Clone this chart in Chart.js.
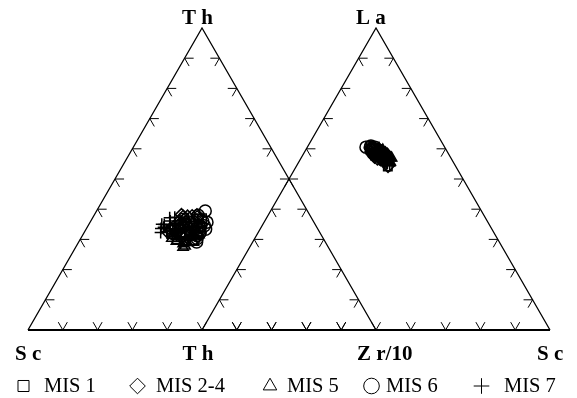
<!DOCTYPE html>
<html>
<head>
<meta charset="utf-8">
<script src="https://cdn.jsdelivr.net/npm/chart.js@4/dist/chart.umd.min.js"></script>
<style>
  html, body { margin: 0; padding: 0; background: #fff; }
  canvas { display: block; }
</style>
</head>
<body>
<canvas id="chart" width="577" height="398"></canvas>
<script>
  // samples as [La, Th, Sc, Zr] (ppm), read back from both diagrams
  const seriesNames = ['MIS 1', 'MIS 2-4', 'MIS 5', 'MIS 6', 'MIS 7'];
  const seriesStyles = ['rect', 'rectRot', 'triangle', 'circle', 'cross'];

  const mis1 = [
    [27.4, 9.2, 10.8, 74], [27.9, 9.6, 10.4, 80], [28.2, 9.8, 10.1, 85],
    [27.1, 9.0, 11.2, 78], [27.6, 9.4, 10.6, 88], [28.0, 9.7, 10.9, 72],
    [26.8, 8.9, 11.0, 83], [27.5, 9.3, 10.2, 90], [28.4, 10.0, 10.5, 77],
    [27.2, 9.1, 11.4, 70], [27.8, 9.5, 9.9, 86], [27.0, 8.8, 10.7, 81],
    [29.2, 10.3, 9.1, 86], [26.1, 8.5, 12.0, 79], [28.6, 10.6, 10.4, 75],
    [26.5, 8.6, 11.9, 88], [29.0, 10.0, 8.5, 85], [25.5, 9.2, 12.4, 74],
    [27.3, 9.0, 10.0, 83], [28.1, 9.9, 11.0, 76], [26.9, 9.1, 11.8, 82]
  ];
  const mis24 = [
    [28.1, 10.2, 10.3, 74], [27.7, 10.4, 10.8, 79], [28.5, 10.1, 10.0, 82],
    [27.9, 9.9, 10.6, 70], [28.3, 10.3, 9.8, 87], [27.4, 9.7, 11.1, 76],
    [28.0, 10.0, 10.4, 92], [27.6, 9.6, 10.9, 84], [28.6, 10.5, 10.2, 72],
    [27.3, 9.4, 11.3, 68], [28.8, 10.9, 10.2, 78], [29.4, 10.5, 8.9, 81],
    [28.9, 11.0, 10.6, 72], [26.9, 9.2, 11.7, 66], [28.4, 10.7, 9.6, 80],
    [25.9, 9.3, 12.6, 70], [27.8, 10.1, 11.4, 75], [29.1, 10.8, 9.4, 86],
    [27.2, 9.8, 11.0, 80]
  ];
  const mis5 = [
    [27.0, 8.4, 10.9, 80], [26.6, 8.1, 11.2, 84], [27.3, 8.6, 10.5, 88],
    [26.9, 8.3, 11.5, 76], [27.5, 8.8, 10.3, 91], [26.4, 8.0, 11.0, 86],
    [27.2, 8.7, 11.3, 73], [26.8, 8.2, 10.7, 93], [27.6, 8.9, 10.8, 82],
    [26.7, 8.5, 11.6, 70], [26.2, 8.0, 11.8, 90], [25.8, 8.4, 12.2, 80],
    [26.0, 7.9, 11.4, 84], [27.9, 9.0, 10.0, 95], [26.2, 8.9, 12.0, 78],
    [27.4, 8.4, 10.2, 86], [26.1, 7.8, 11.9, 88], [27.8, 8.8, 9.6, 90],
    [26.0, 8.6, 12.3, 74]
  ];
  const mis6 = [
    [28.4, 10.6, 7.9, 84], [27.8, 9.3, 9.6, 92], [27.5, 9.1, 9.9, 95],
    [28.0, 9.6, 9.4, 89], [27.3, 8.9, 10.2, 94], [27.9, 9.4, 10.0, 97],
    [27.6, 9.0, 9.8, 90], [28.2, 9.8, 9.7, 93], [27.1, 8.7, 10.4, 96],
    [29.5, 10.4, 8.8, 82], [28.7, 9.9, 9.2, 96], [26.6, 8.5, 10.8, 99],
    [28.9, 10.2, 9.0, 91], [27.0, 9.0, 11.2, 98], [29.0, 10.0, 8.6, 94],
    [28.3, 9.6, 9.3, 99], [26.9, 8.6, 10.6, 92], [28.0, 9.3, 9.0, 88]
  ];
  const mis7 = [
    [27.5, 10.0, 12.4, 62], [27.8, 9.8, 11.8, 66], [27.2, 9.5, 12.0, 68],
    [28.0, 10.1, 11.5, 64], [27.4, 9.6, 11.9, 71], [27.9, 9.9, 11.2, 69],
    [27.1, 9.3, 11.6, 73], [27.0, 9.4, 12.6, 60], [26.4, 9.0, 12.1, 65],
    [28.3, 10.4, 11.4, 62], [27.6, 9.7, 12.2, 58], [27.3, 9.9, 12.8, 64],
    [26.8, 9.5, 12.3, 70], [28.6, 10.5, 11.0, 66], [26.2, 9.1, 12.9, 62]
  ];

  const topLabels = ['T h', 'L a'];
  const bottomLabels = ['S c', 'T h', 'Z r/10', 'S c'];

  const H = Math.sqrt(3) / 2;
  const TICK_STEPS = 10;
  const TICK_LEN = 0.026;

  // left diagram: Sc bottom-left, Zr/10 bottom-right, Th on top
  function leftXY(th, sc, zr10) {
    const t = th + sc + zr10;
    return { x: (zr10 + th / 2) / t, y: th / t * H };
  }
  // right diagram: Th bottom-left, Sc bottom-right, La on top
  function rightXY(la, th, sc) {
    const t = la + th + sc;
    return { x: 0.5 + (sc + la / 2) / t, y: la / t * H };
  }

  const leftCorners = [leftXY(0, 1, 0), leftXY(0, 0, 1), leftXY(1, 0, 0)];
  const rightCorners = [rightXY(0, 1, 0), rightXY(0, 0, 1), rightXY(1, 0, 0)];

  function outline(c) {
    return [c[0], c[2], c[1]];
  }

  // small inward ticks along the two other grid directions
  function tickPoints(corners) {
    const [a, b, c] = corners;
    const pts = [];
    [[a, b, c], [a, c, b], [b, c, a]].forEach(([p, q, r]) => {
      for (let k = 1; k < TICK_STEPS; k++) {
        const f = k / TICK_STEPS;
        const tx = p.x + (q.x - p.x) * f;
        const ty = p.y + (q.y - p.y) * f;
        pts.push({ x: tx + (r.x - p.x) * TICK_LEN, y: ty + (r.y - p.y) * TICK_LEN });
        pts.push({ x: tx, y: ty });
        pts.push({ x: tx + (r.x - q.x) * TICK_LEN, y: ty + (r.y - q.y) * TICK_LEN });
        pts.push({ x: tx, y: null });
      }
    });
    return pts;
  }

  function lineSet(data, width) {
    return {
      data: data,
      showLine: true,
      borderColor: '#000',
      borderWidth: width,
      pointRadius: 0,
      spanGaps: false,
      clip: false
    };
  }

  const frameSets = [
    lineSet(outline(leftCorners), 1.3),
    lineSet(outline(rightCorners), 1.3),
    lineSet([leftCorners[0], rightCorners[1]], 2.2),
    lineSet(tickPoints(leftCorners).concat(tickPoints(rightCorners)), 1)
  ];

  const pointSets = [mis1, mis24, mis5, mis6, mis7].map((rows, i) => ({
    label: seriesNames[i],
    data: rows.map(([la, th, sc, zr]) => leftXY(th, sc, zr / 10))
      .concat(rows.map(([la, th, sc, zr]) => rightXY(la, th, sc))),
    pointStyle: seriesStyles[i],
    pointRadius: 6,
    borderColor: '#000',
    backgroundColor: 'rgba(0,0,0,0)',
    borderWidth: 1.5,
    clip: false
  }));

  const labelPlugin = {
    id: 'ternaryText',
    afterDraw(chart) {
      const ctx = chart.ctx;
      const xs = chart.scales.x;
      ctx.save();
      ctx.fillStyle = '#000';
      ctx.textAlign = 'left';
      ctx.textBaseline = 'alphabetic';
      ctx.font = 'bold 21px "Liberation Serif", "Times New Roman", serif';
      const topX = [leftCorners[2].x, rightCorners[2].x];
      topLabels.forEach((t, i) => {
        ctx.fillText(t, xs.getPixelForValue(topX[i]) - 20, 24);
      });
      const bottomX = [leftCorners[0].x, rightCorners[0].x, leftCorners[1].x, rightCorners[1].x];
      const shift = [-13, -19.5, -19, -13];
      bottomLabels.forEach((t, i) => {
        ctx.fillText(t, xs.getPixelForValue(bottomX[i]) + shift[i], 360);
      });

      // legend row
      const symbolX = [23.5, 137.5, 270, 371.5, 481.5];
      const textX = [44, 156, 287, 386, 504];
      ctx.font = '20.5px "Liberation Serif", "Times New Roman", serif';
      ctx.textBaseline = 'middle';
      seriesNames.forEach((name, i) => {
        ctx.strokeStyle = '#000';
        ctx.fillStyle = '#fff';
        ctx.lineWidth = 1;
        Chart.helpers.drawPoint(ctx, {
          pointStyle: seriesStyles[i], radius: 7.8, rotation: 0, borderWidth: 1
        }, symbolX[i], 386);
        ctx.fillStyle = '#000';
        ctx.fillText(name, textX[i], 387);
      });
      ctx.restore();
    }
  };

  new Chart(document.getElementById('chart'), {
    type: 'scatter',
    data: { datasets: frameSets.concat(pointSets) },
    options: {
      responsive: false,
      animation: false,
      layout: { padding: { left: 28, right: 27, top: 28, bottom: 68 } },
      scales: {
        x: { type: 'linear', display: false, min: 0, max: 1.5 },
        y: { type: 'linear', display: false, min: 0, max: H }
      },
      plugins: {
        legend: { display: false },
        tooltip: { enabled: false }
      }
    },
    plugins: [labelPlugin]
  });
</script>
</body>
</html>
